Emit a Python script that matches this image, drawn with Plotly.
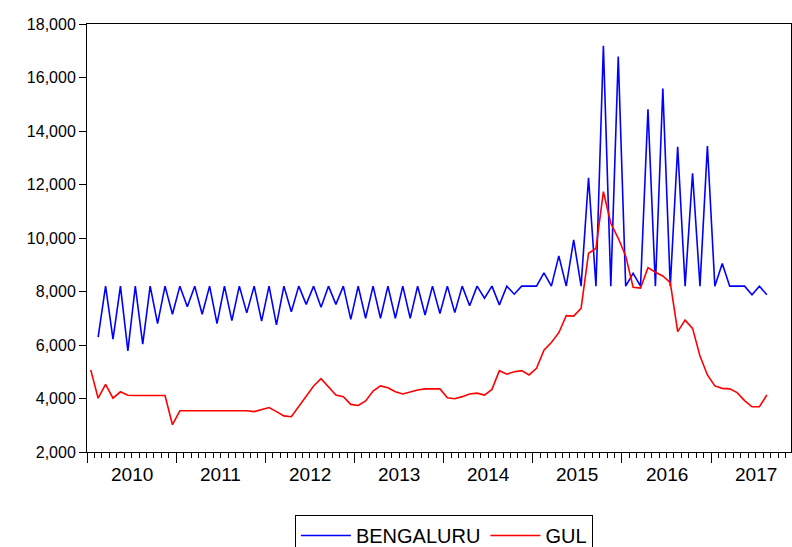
import plotly.graph_objects as go

# Monthly data, Jan 2010 (index 0) .. Aug 2017 (index 91)
start_year = 2010
bengaluru = [
    None, 6290, 8200, 6220, 8200, 5780, 8200, 6030, 8200, 6800, 8200, 7150,   # 2010
    8200, 7430, 8200, 7150, 8200, 6800, 8200, 6910, 8200, 7200, 8200, 6890,   # 2011
    8200, 6750, 8200, 7240, 8200, 7520, 8200, 7410, 8200, 7520, 8200, 6960,   # 2012
    8200, 7000, 8200, 7000, 8200, 7000, 8200, 7000, 8200, 7120, 8200, 7180,   # 2013
    8200, 7210, 8200, 7470, 8200, 7750, 8200, 7500, 8200, 7900, 8200, 8200,   # 2014
    8200, 8700, 8200, 9330, 8200, 9930, 8200, 12250, 8200, 17190, 8200, 16780,  # 2015
    8200, 8680, 8200, 14810, 8200, 15590, 8200, 13410, 8200, 12420, 8200, 13440,  # 2016
    8200, 9050, 8200, 8200, 8200, 7880, 8200, 7880,                            # 2017
]
gul = [
    5070, 4010, 4530, 4010, 4250, 4120, 4110, 4110, 4110, 4110, 4110, 3020,   # 2010
    3540, 3540, 3540, 3540, 3540, 3540, 3540, 3540, 3520, 3540, 3510, 3580,   # 2011
    3660, 3510, 3350, 3320, 3700, 4090, 4470, 4740, 4440, 4130, 4070, 3780,   # 2012
    3740, 3910, 4280, 4470, 4400, 4250, 4170, 4250, 4320, 4360, 4360, 4360,   # 2013
    4030, 3990, 4070, 4170, 4200, 4130, 4340, 5040, 4910, 5000, 5040, 4880,   # 2014
    5130, 5810, 6090, 6460, 7100, 7080, 7370, 9430, 9610, 11730, 10550, 9990,  # 2015
    9330, 8160, 8130, 8890, 8720, 8580, 8330, 6500, 6930, 6620, 5590, 4880,   # 2016
    4470, 4380, 4360, 4220, 3920, 3690, 3690, 4130,                           # 2017
]
year_labels = ["2010", "2011", "2012", "2013", "2014", "2015", "2016", "2017"]
y_ticks = [2000, 4000, 6000, 8000, 10000, 12000, 14000, 16000, 18000]

x_pos = [i + 0.5 for i in range(len(gul))]

fig = go.Figure()
fig.add_trace(go.Scatter(x=x_pos, y=bengaluru, mode="lines", name="BENGALURU",
                         line=dict(color="#0000FF", width=1.6), connectgaps=False))
fig.add_trace(go.Scatter(x=x_pos, y=gul, mode="lines", name="GUL",
                         line=dict(color="#FF0000", width=1.6)))

year_bounds = [12 * k for k in range(0, 8)]
month_ticks = [m for m in range(0, 95)]

fig.update_layout(
    width=792, height=547,
    margin=dict(l=87, r=1, t=24, b=95, autoexpand=False),
    plot_bgcolor="white", paper_bgcolor="white",
    font=dict(family="Liberation Sans, Arial, sans-serif", size=15, color="black"),
    showlegend=True,
    legend=dict(orientation="h", x=0.507, xanchor="center",
                yref="container", y=1 - 515 / 547, yanchor="top",
                bordercolor="black", borderwidth=1, font=dict(size=20),
                itemwidth=50, tracegroupgap=0),
    xaxis=dict(range=[0, 94.75], showgrid=False, zeroline=False, automargin=False,
               showline=True, linecolor="black", linewidth=1, mirror=True,
               tickmode="array", tickvals=year_bounds, ticks="outside",
               ticklen=10, tickcolor="black", showticklabels=False,
               minor=dict(tickmode="array", tickvals=month_ticks, ticks="outside",
                          ticklen=5, tickcolor="black", showgrid=False)),
    yaxis=dict(range=[2000, 18000], showgrid=False, zeroline=False, automargin=False,
               showline=True, linecolor="black", linewidth=1, mirror=True,
               tickmode="array", tickvals=y_ticks, tickformat=",",
               ticks="outside", ticklen=7, tickcolor="black",
               tickfont=dict(size=16)),
)

for k, lab in enumerate(year_labels):
    fig.add_annotation(x=12 * k + 6, y=0, xref="x", yref="paper", text=lab,
                       showarrow=False, yanchor="middle", yshift=-22,
                       font=dict(size=19, color="black"))

fig.write_html("out.html", config={"displayModeBar": False},
               post_script="document.body.style.margin='0';document.body.style.padding='0';")
